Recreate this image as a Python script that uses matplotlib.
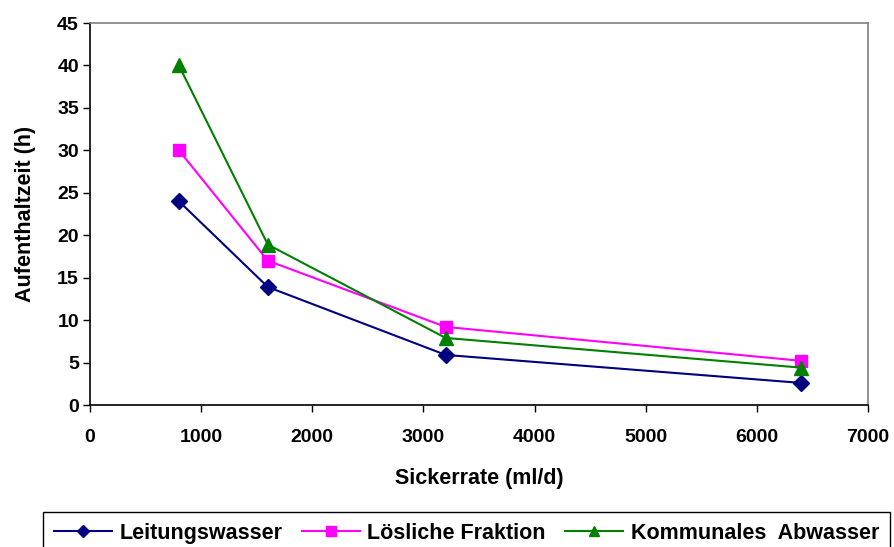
import matplotlib
matplotlib.use("Agg")
import matplotlib.pyplot as plt

plt.rcParams['font.family'] = ['Liberation Sans', 'DejaVu Sans']

sickerrate = [800, 1600, 3200, 6400]
leitungswasser = [24.0, 13.9, 5.9, 2.6]
loesliche_fraktion = [30.0, 17.0, 9.2, 5.2]
kommunales_abwasser = [40.0, 18.9, 7.9, 4.4]

x_ticks = [0, 1000, 2000, 3000, 4000, 5000, 6000, 7000]
y_ticks = [0, 5, 10, 15, 20, 25, 30, 35, 40, 45]

fig = plt.figure(figsize=(8.95, 5.47), dpi=100)
ax = fig.add_axes([90/895, 1-405/547, (868-90)/895, (405-23)/547])

ax.plot(sickerrate, leitungswasser, color='#000080', marker='D', markersize=8.5,
        linewidth=1.5, label='Leitungswasser', clip_on=False)
ax.plot(sickerrate, loesliche_fraktion, color='#FF00FF', marker='s', markersize=9,
        linewidth=1.5, label='Lösliche Fraktion', clip_on=False)
ax.plot(sickerrate, kommunales_abwasser, color='#008000', marker='^', markersize=10,
        linewidth=1.5, label='Kommunales  Abwasser', clip_on=False)

ax.set_xlim(0, 7000)
ax.set_ylim(0, 45)
ax.set_xticks(x_ticks)
ax.set_yticks(y_ticks)
ax.tick_params(direction='out', length=5, width=1, labelsize=14)
ax.tick_params(axis='x', pad=12)
ax.tick_params(axis='y', pad=3)
for lab in ax.get_xticklabels() + ax.get_yticklabels():
    lab.set_fontweight('bold')

for side in ('top', 'right'):
    ax.spines[side].set_color('#808080')
    ax.spines[side].set_linewidth(1.2)
for side in ('left', 'bottom'):
    ax.spines[side].set_color('black')
    ax.spines[side].set_linewidth(1.2)

ax.set_xlabel('Sickerrate (ml/d)', fontsize=15.5, fontweight='bold', labelpad=16)
ax.set_ylabel('Aufenthaltzeit (h)', fontsize=15.5, fontweight='bold', labelpad=15)

leg = fig.legend(loc='upper left', bbox_to_anchor=(43/895, 1-512/547), ncol=3,
                 frameon=True, fancybox=False, edgecolor='black', framealpha=1,
                 prop={'weight': 'bold', 'size': 15.5}, handlelength=2.7,
                 markerscale=0.75, columnspacing=0.9, handletextpad=0.35,
                 borderpad=0.5, borderaxespad=0)
leg.get_frame().set_linewidth(1.0)

fig.savefig('out.png', dpi=100)
